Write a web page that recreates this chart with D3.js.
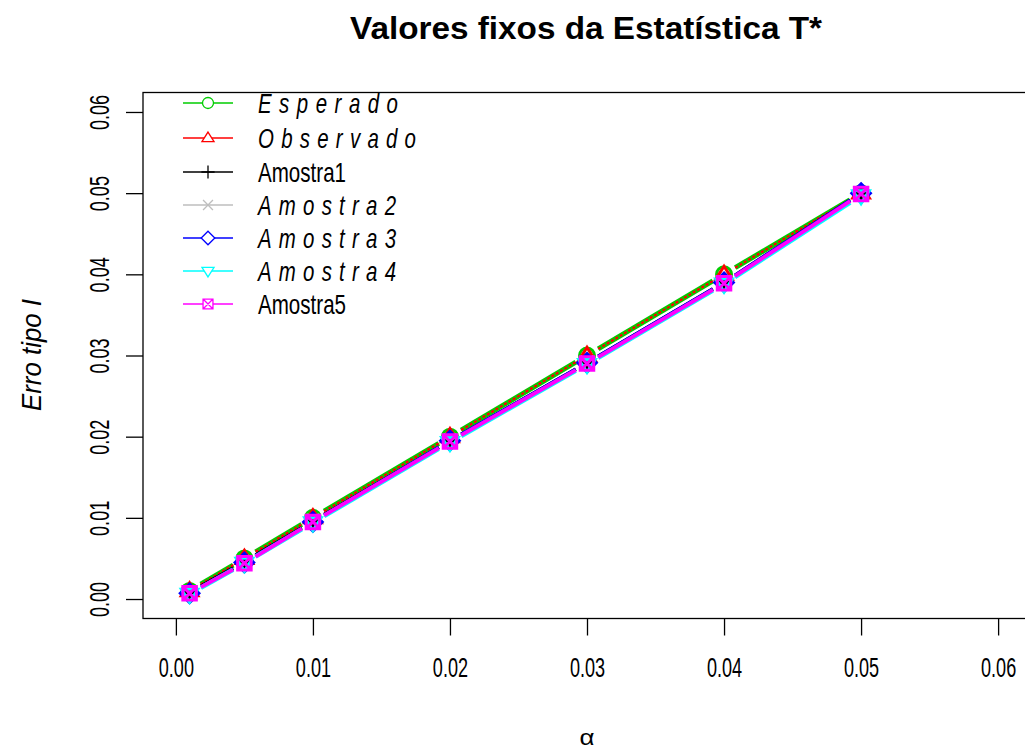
<!DOCTYPE html>
<html>
<head>
<meta charset="utf-8">
<script src="https://cdn.jsdelivr.net/npm/d3@7"></script>
<style>
  html, body { margin: 0; padding: 0; background: #fff; }
  svg { display: block; font-family: "Liberation Sans", Arial, sans-serif; }
</style>
</head>
<body>
<svg id="chart" width="1025" height="751"></svg>
<script>
// Nominal significance levels (alpha)
const alphas = [0.001, 0.005, 0.01, 0.02, 0.03, 0.04, 0.05];

// Type I error rates
const esperado  = [0.001, 0.005, 0.010, 0.020, 0.030, 0.040, 0.050];
const observado = [0.001, 0.005, 0.010, 0.020, 0.030, 0.040, 0.050];
const amostra1  = [0.0008, 0.0046, 0.0096, 0.0195, 0.0291, 0.0390, 0.0500];
const amostra2  = [0.0008, 0.0045, 0.0096, 0.0195, 0.0291, 0.0390, 0.0499];
const amostra3  = [0.0007, 0.0045, 0.0095, 0.0195, 0.0291, 0.0390, 0.0500];
const amostra4  = [0.0006, 0.0044, 0.0094, 0.0193, 0.0289, 0.0388, 0.0497];
const amostra5  = [0.0007, 0.0044, 0.0095, 0.0194, 0.0290, 0.0389, 0.0499];

const xTicks = [0, 0.01, 0.02, 0.03, 0.04, 0.05, 0.06];
const yTicks = [0, 0.01, 0.02, 0.03, 0.04, 0.05, 0.06];

const seriesNames  = ["Esperado", "Observado", "Amostra1", "Amostra2", "Amostra3", "Amostra4", "Amostra5"];
const seriesItalic = [true, true, false, true, true, true, false];
const seriesColors = ["#00cd00", "#ff0000", "#000000", "#bebebe", "#0000ff", "#00ffff", "#ff00ff"];
const seriesShapes = ["circle", "triUp", "plus", "cross", "diamond", "triDown", "boxX"];
const seriesValues = [esperado, observado, amostra1, amostra2, amostra3, amostra4, amostra5];

const svg = d3.select("#chart");
const FONT = "Liberation Sans, Arial, sans-serif";

const x = d3.scaleLinear().domain([-0.0024, 0.0624]).range([143, 1031]);
const y = d3.scaleLinear().domain([-0.0024, 0.0624]).range([618.5, 92.5]);

// symbol path generator (R-like pch shapes), centred on 0,0
function shapePath(shape, s) {
  const p = d3.path();
  switch (shape) {
    case "circle":
      p.arc(0, 0, s * 0.5, 0, 2 * Math.PI); break;
    case "triUp": {
      const h = s * 0.87;
      p.moveTo(0, -h * 0.62); p.lineTo(s * 0.55, h * 0.38); p.lineTo(-s * 0.55, h * 0.38); p.closePath(); break;
    }
    case "triDown": {
      const h = s * 0.87;
      p.moveTo(0, h * 0.62); p.lineTo(s * 0.55, -h * 0.38); p.lineTo(-s * 0.55, -h * 0.38); p.closePath(); break;
    }
    case "plus":
      p.moveTo(-s * 0.6, 0); p.lineTo(s * 0.6, 0); p.moveTo(0, -s * 0.6); p.lineTo(0, s * 0.6); break;
    case "cross":
      p.moveTo(-s * 0.45, -s * 0.45); p.lineTo(s * 0.45, s * 0.45);
      p.moveTo(-s * 0.45, s * 0.45); p.lineTo(s * 0.45, -s * 0.45); break;
    case "diamond":
      p.moveTo(0, -s * 0.62); p.lineTo(s * 0.62, 0); p.lineTo(0, s * 0.62); p.lineTo(-s * 0.62, 0); p.closePath(); break;
    case "boxX":
      p.rect(-s * 0.45, -s * 0.45, s * 0.9, s * 0.9);
      p.moveTo(-s * 0.45, -s * 0.45); p.lineTo(s * 0.45, s * 0.45);
      p.moveTo(-s * 0.45, s * 0.45); p.lineTo(s * 0.45, -s * 0.45); break;
  }
  return p.toString();
}

// plot frame
const plot = svg.append("g");
plot.append("rect")
  .attr("x", 143).attr("y", 92.5)
  .attr("width", 1031 - 143).attr("height", 618.5 - 92.5)
  .attr("fill", "none").attr("stroke", "#000").attr("stroke-width", 1.3);

// series drawn as lines with gaps around the points (type "b")
const gap = 13;
const drawOrder = [0, 1, 3, 2, 4, 5, 6];
const lineWidths = [5, 2.2, 3.5, 3.5, 3.5, 4.5, 3.8];
drawOrder.forEach(i => {
  const vals = seriesValues[i];
  const g = plot.append("g");
  const pts = alphas.map((a, k) => [x(a), y(vals[k])]);
  for (let k = 0; k < pts.length - 1; k++) {
    const [x0, y0] = pts[k], [x1, y1] = pts[k + 1];
    const len = Math.hypot(x1 - x0, y1 - y0);
    if (len <= 2 * gap) continue;
    const ux = (x1 - x0) / len, uy = (y1 - y0) / len;
    g.append("line")
      .attr("x1", x0 + ux * gap).attr("y1", y0 + uy * gap)
      .attr("x2", x1 - ux * gap).attr("y2", y1 - uy * gap)
      .attr("stroke", seriesColors[i])
      .attr("stroke-width", lineWidths[i])
      .attr("stroke-dasharray", i === 1 ? "3,2" : null);
  }
  g.selectAll("path.pt").data(pts).join("path")
    .attr("class", "pt")
    .attr("transform", d => `translate(${d[0]},${d[1]})`)
    .attr("d", shapePath(seriesShapes[i], 15))
    .attr("fill", "none")
    .attr("stroke", seriesColors[i])
    .attr("stroke-width", 3);
});

// condensed tick lettering
const tickSqueeze = 0.67;

// x axis
const xAxis = svg.append("g").attr("transform", "translate(0,618.5)")
  .call(d3.axisBottom(x).tickValues(xTicks).tickSize(17).tickSizeOuter(0).tickPadding(14)
    .tickFormat(d3.format(".2f")));
xAxis.select(".domain").remove();
xAxis.selectAll(".tick line").attr("stroke", "#000").attr("stroke-width", 1.3);
xAxis.selectAll(".tick text")
  .attr("y", 59).attr("dy", null)
  .attr("font-size", 27).attr("fill", "#000").attr("font-family", FONT)
  .attr("transform", `scale(${tickSqueeze},1)`);

// y axis
const yAxis = svg.append("g").attr("transform", "translate(143,0)")
  .call(d3.axisLeft(y).tickValues(yTicks).tickSize(17).tickSizeOuter(0).tickFormat(d3.format(".2f")));
yAxis.select(".domain").remove();
yAxis.selectAll(".tick line").attr("stroke", "#000").attr("stroke-width", 1.3);
yAxis.selectAll(".tick text")
  .attr("x", 0).attr("y", 0).attr("dy", null)
  .attr("font-size", 27).attr("fill", "#000").attr("font-family", FONT)
  .attr("text-anchor", "middle")
  .attr("transform", `translate(-34,0) rotate(-90) scale(${tickSqueeze},1)`);

// titles
svg.append("text")
  .attr("x", 586).attr("y", 39)
  .attr("text-anchor", "middle")
  .attr("font-weight", "bold").attr("font-size", 31)
  .attr("textLength", 472).attr("lengthAdjust", "spacingAndGlyphs")
  .text("Valores fixos da Estatística T*");

svg.append("text")
  .attr("x", 587).attr("y", 745)
  .attr("text-anchor", "middle").attr("font-size", 22)
  .attr("textLength", 15).attr("lengthAdjust", "spacingAndGlyphs")
  .text("α");

svg.append("text")
  .attr("transform", "translate(41,355) rotate(-90)")
  .attr("text-anchor", "middle").attr("font-size", 28).attr("font-style", "italic")
  .attr("textLength", 112).attr("lengthAdjust", "spacingAndGlyphs")
  .text("Erro tipo I");

// legend
const legendY = [103, 138, 172, 205, 238, 271, 304];
const legendW = [140, 158, 88, 138, 138, 138, 88];
const squeeze = 0.73;
const legend = svg.append("g");
seriesNames.forEach((name, i) => {
  const row = legend.append("g").attr("transform", `translate(0,${legendY[i]})`);
  row.append("line").attr("x1", 183).attr("x2", 233).attr("y1", 0).attr("y2", 0)
    .attr("stroke", seriesColors[i]).attr("stroke-width", 1.3);
  row.append("path").attr("transform", "translate(208,0)")
    .attr("d", shapePath(seriesShapes[i], 11))
    .attr("fill", "#fff").attr("fill-opacity", i === 2 || i === 3 ? 0 : 1)
    .attr("stroke", seriesColors[i]).attr("stroke-width", 1.3);
  row.append("text")
    .attr("transform", `translate(258,0) scale(${squeeze},1)`)
    .attr("x", 0).attr("y", 0).attr("dy", "0.36em")
    .attr("font-size", 28).attr("font-family", FONT)
    .attr("font-style", seriesItalic[i] ? "italic" : "normal")
    .attr("textLength", legendW[i] / squeeze)
    .attr("lengthAdjust", seriesItalic[i] ? "spacing" : "spacingAndGlyphs")
    .text(name);
});
</script>
</body>
</html>
